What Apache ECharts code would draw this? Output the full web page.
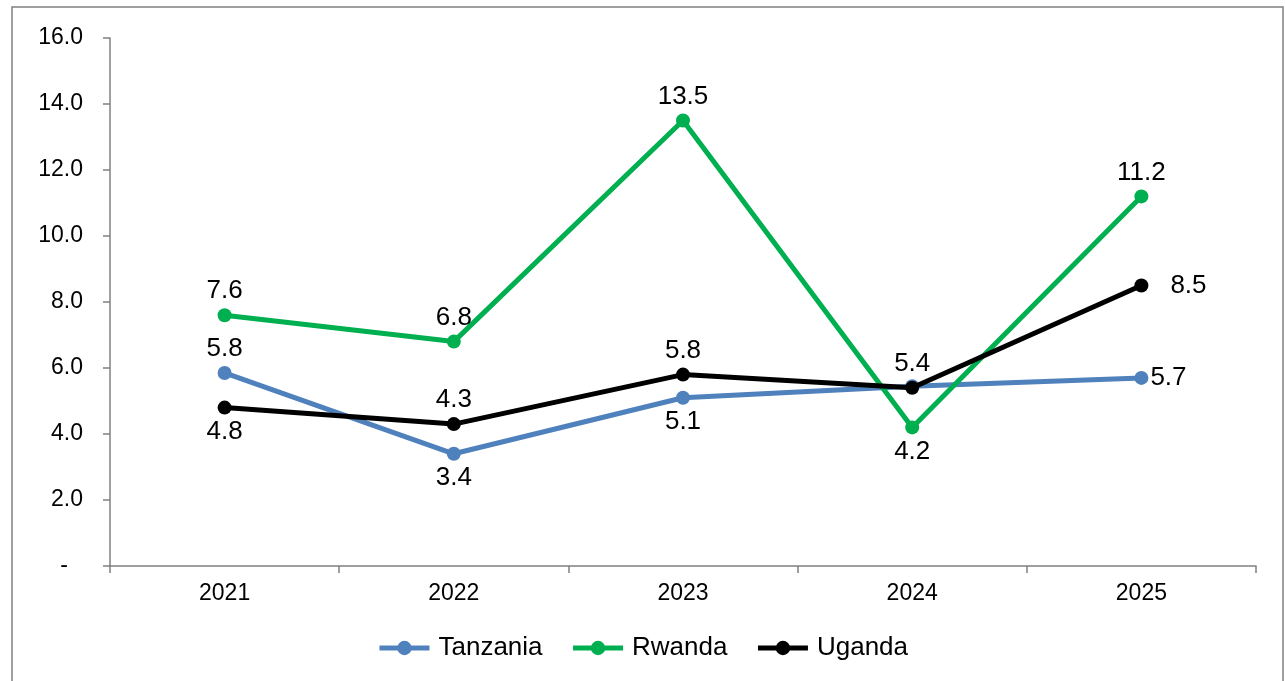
<!DOCTYPE html>
<html>
<head>
<meta charset="utf-8">
<script src="https://cdn.jsdelivr.net/npm/echarts@6/dist/echarts.min.js"></script>
<style>
html,body{margin:0;padding:0;background:#fff;}
#chart{width:1285px;height:681px;}
</style>
</head>
<body>
<div id="chart"></div>
<script>
var categories = ['2021', '2022', '2023', '2024', '2025'];
var tanzania = [5.85, 3.4, 5.1, 5.45, 5.7];
var rwanda = [7.6, 6.8, 13.5, 4.2, 11.2];
var uganda = [4.8, 4.3, 5.8, 5.4, 8.5];
var tanzaniaLabels = ['5.8', '3.4', '5.1', '', '5.7'];
var rwandaLabels = ['7.6', '6.8', '13.5', '4.2', '11.2'];
var ugandaLabels = ['4.8', '4.3', '5.8', '5.4', '8.5'];
var yTicks = [0, 2, 4, 6, 8, 10, 12, 14, 16];

var tanzaniaPos = ['top', 'bottom', 'bottom', 'top', 'right'];
var rwandaPos = ['top', 'top', 'top', 'bottom', 'top'];
var ugandaPos = ['bottom', 'top', 'top', 'top', 'right'];

var FONT = 'Liberation Sans, Arial, sans-serif';

function build(values, labels, pos, rightDist) {
  return values.map(function (v, i) {
    return {
      value: v,
      label: {
        show: labels[i] !== '',
        position: pos[i],
        distance: pos[i] === 'right' ? rightDist : 4,
        formatter: labels[i]
      }
    };
  });
}

var labelStyle = { fontFamily: FONT, fontSize: 26, color: '#000' };

var chart = echarts.init(document.getElementById('chart'));
chart.setOption({
  animation: false,
  backgroundColor: '#fff',
  graphic: [{
    type: 'rect',
    shape: { x: 12, y: 7, width: 1271, height: 690 },
    style: { fill: 'none', stroke: '#808080', lineWidth: 1.5 },
    silent: true
  }],
  grid: { left: 110, right: 29, top: 38, bottom: 115, containLabel: false },
  legend: {
    bottom: 15,
    left: 'center',
    itemWidth: 50,
    itemHeight: 18,
    itemGap: 28,
    lineStyle: { width: 5 },
    textStyle: { fontFamily: FONT, fontSize: 26, color: '#000', padding: [0, 0, 0, 4] },
    data: ['Tanzania', 'Rwanda', 'Uganda']
  },
  xAxis: {
    type: 'category',
    data: categories,
    boundaryGap: true,
    axisLine: { lineStyle: { color: '#808080', width: 1.5 } },
    axisTick: { show: true, length: 7, lineStyle: { color: '#808080', width: 1.5 } },
    axisLabel: { margin: 16, fontFamily: FONT, fontSize: 23, color: '#000' },
    splitLine: { show: false }
  },
  yAxis: {
    type: 'value',
    min: yTicks[0],
    max: yTicks[yTicks.length - 1],
    interval: 2,
    axisLine: { show: true, lineStyle: { color: '#808080', width: 1.5 } },
    axisTick: { show: true, inside: false, length: 7, lineStyle: { color: '#808080', width: 1.5 } },
    splitLine: { show: false },
    axisLabel: {
      margin: 27,
      fontFamily: FONT,
      fontSize: 23,
      color: '#000',
      formatter: function (v) { return v === 0 ? '{d|-}' : v.toFixed(1); },
      rich: { d: { fontFamily: FONT, fontSize: 23, color: '#000', padding: [0, 15, 0, 0] } }
    }
  },
  series: [
    {
      name: 'Tanzania', type: 'line', data: build(tanzania, tanzaniaLabels, tanzaniaPos, 2),
      symbol: 'circle', symbolSize: 14, z: 2,
      lineStyle: { color: '#4F81BD', width: 5 },
      itemStyle: { color: '#4F81BD' },
      label: labelStyle
    },
    {
      name: 'Rwanda', type: 'line', data: build(rwanda, rwandaLabels, rwandaPos, 4),
      symbol: 'circle', symbolSize: 14, z: 3,
      lineStyle: { color: '#00B050', width: 5 },
      itemStyle: { color: '#00B050' },
      label: labelStyle
    },
    {
      name: 'Uganda', type: 'line', data: build(uganda, ugandaLabels, ugandaPos, 22),
      symbol: 'circle', symbolSize: 14, z: 4,
      lineStyle: { color: '#000000', width: 5 },
      itemStyle: { color: '#000000' },
      label: labelStyle
    }
  ]
});
</script>
</body>
</html>
